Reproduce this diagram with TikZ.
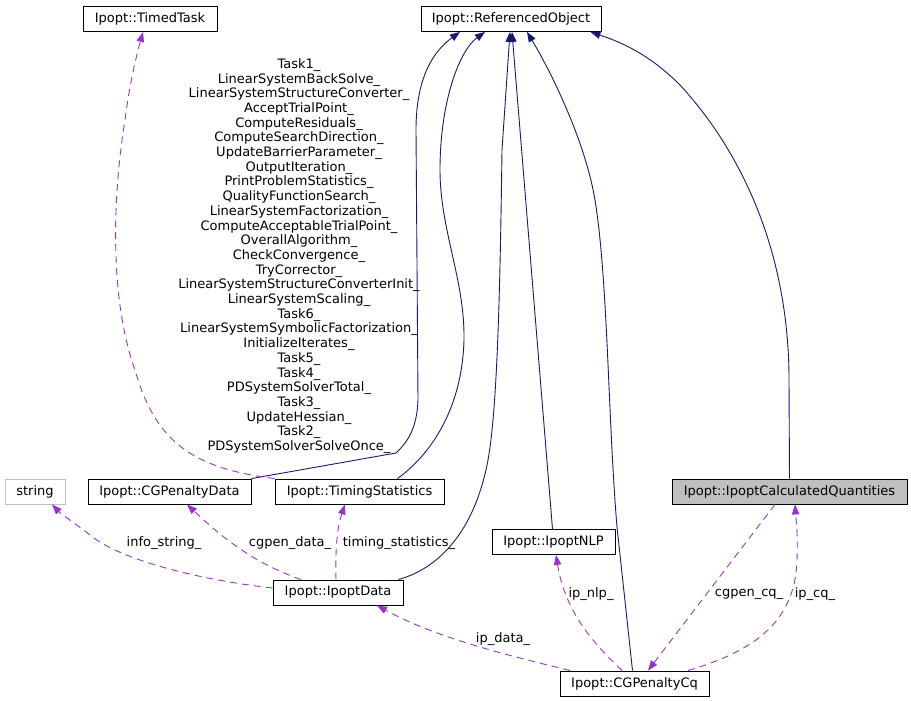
\documentclass[tikz,border=0pt]{standalone}
\usepackage{fontspec}
\setmainfont{DejaVu Sans}
\usetikzlibrary{arrows.meta}
\definecolor{midnight}{RGB}{25,25,112}
\definecolor{orchid}{RGB}{154,50,205}
\definecolor{boxgray}{RGB}{191,191,191}

\begin{document}
\begin{tikzpicture}[x=1pt,y=-1pt,
  font=\fontsize{13}{14.7}\selectfont,
  cls/.style={draw=black,fill=white,line width=0.9pt,minimum height=25pt,inner sep=0pt},
  lbl/.style={inner sep=0pt},
  derive/.style={draw=midnight,line width=0.9pt,-{Triangle[length=10pt,width=7.5pt]}},
  member/.style={draw=orchid,line width=0.9pt,dash pattern=on 7pt off 5pt,-{Triangle[length=10pt,width=7.5pt]}}
]
  \useasboundingbox (0,0) rectangle (911,701);

  \node[cls,minimum width=134] (timed) at (150,19) {Ipopt::TimedTask};
  \node[cls,minimum width=180] (ro) at (511,19) {Ipopt::ReferencedObject};
  \node[cls,draw=boxgray,minimum width=60] (str) at (35,491.5) {string};
  \node[cls,minimum width=163] (cgpd) at (169.5,491.5) {Ipopt::CGPenaltyData};
  \node[cls,minimum width=169] (ts) at (359.5,491.5) {Ipopt::TimingStatistics};
  \node[cls,fill=boxgray,minimum width=235] (ipcq) at (789.5,491.5) {Ipopt::IpoptCalculatedQuantities};
  \node[cls,minimum width=123] (nlp) at (553.5,542) {Ipopt::IpoptNLP};
  \node[cls,minimum width=130] (ipd) at (338,592.5) {Ipopt::IpoptData};
  \node[cls,minimum width=149] (cgpq) at (634.5,683.5) {Ipopt::CGPenaltyCq};

  % base class edges
  \draw[derive] (cgpd.north east) -- (396,453) .. controls (410,440) and (417,425) .. (418,400)
    -- (416,130) .. controls (416,75) and (435,50) .. ([xshift=-51]ro.south);
  \draw[derive] ([xshift=38]ts.north) .. controls (430,455) and (462,410) .. (464,340)
    .. controls (465,280) and (440,230) .. (440,170)
    .. controls (440,100) and (460,50) .. ([xshift=-26]ro.south);
  \draw[derive] ([xshift=-5]ipd.north east) .. controls (440,568) and (475,530) .. (488,460)
    .. controls (497,410) and (500,300) .. (502,150) -- ([xshift=-1]ro.south);
  \draw[derive] ([xshift=-1]nlp.north) -- ([xshift=1]ro.south);
  \draw[derive] ([xshift=-2]cgpq.north) -- (617,527) .. controls (608,420) and (608,280) .. (595,200)
    .. controls (585,140) and (550,70) .. ([xshift=16]ro.south);
  \draw[derive] (ipcq.north) -- (789,380) .. controls (789,250) and (740,150) .. (680,85)
    .. controls (655,60) and (630,45) .. ([xshift=-11]ro.south east);

  % member edges
  \draw[member] (ts.north west) .. controls (190,468) and (155,440) .. (135,370)
    .. controls (110,300) and (112,200) .. (125,120)
    .. controls (130,80) and (138,50) .. ([xshift=-7]timed.south);
  \node[lbl,align=center] (tlist) at (299,256) {Task1\_\\LinearSystemBackSolve\_\\
    LinearSystemStructureConverter\_\\AcceptTrialPoint\_\\ComputeResiduals\_\\
    ComputeSearchDirection\_\\UpdateBarrierParameter\_\\OutputIteration\_\\
    PrintProblemStatistics\_\\QualityFunctionSearch\_\\LinearSystemFactorization\_\\
    ComputeAcceptableTrialPoint\_\\OverallAlgorithm\_\\CheckConvergence\_\\
    TryCorrector\_\\LinearSystemStructureConverterInit\_\\LinearSystemScaling\_\\
    Task6\_\\LinearSystemSymbolicFactorization\_\\InitializeIterates\_\\Task5\_\\
    Task4\_\\PDSystemSolverTotal\_\\Task3\_\\UpdateHessian\_\\Task2\_\\
    PDSystemSolverSolveOnce\_};

  \draw[member] ([yshift=4.5]ipd.west) .. controls (200,580) and (120,560) .. (90,535)
    .. controls (75,523) and (62,515) .. ([xshift=17]str.south);
  \node[lbl] (linfo) at (164,543) {info\_string\_};
  \draw[member] ([xshift=-37]ipd.north) .. controls (260,565) and (230,545) .. ([xshift=17.5]cgpd.south);
  \node[lbl] (lcgd) at (290,543) {cgpen\_data\_};
  \draw[member] ([xshift=-2]ipd.north) .. controls (335,545) and (338,525) .. ([xshift=-14.5]ts.south);
  \node[lbl] (lts) at (399,543) {timing\_statistics\_};

  \draw[member] ([xshift=-64.5]cgpq.north) .. controls (520,658) and (440,640) .. ([xshift=39]ipd.south);
  \node[lbl] (lipd) at (503,639) {ip\_data\_};
  \draw[member] ([xshift=-12.5]cgpq.north) .. controls (590,640) and (565,610) .. ([xshift=2.5]nlp.south);
  \node[lbl] (lnlp) at (591,594) {ip\_nlp\_};
  \draw[member] ([xshift=-14.5]ipcq.south) -- ([xshift=13.5]cgpq.north);
  \node[lbl] (lcgq) at (749,594) {cgpen\_cq\_};
  \draw[member] ([xshift=53.5]cgpq.north) .. controls (750,652) and (795,625) .. (797,560)
    .. controls (798,535) and (796,520) .. ([xshift=5.5]ipcq.south);
  \node[lbl] (lipcq) at (815,594) {ip\_cq\_};
\end{tikzpicture}
\end{document}
